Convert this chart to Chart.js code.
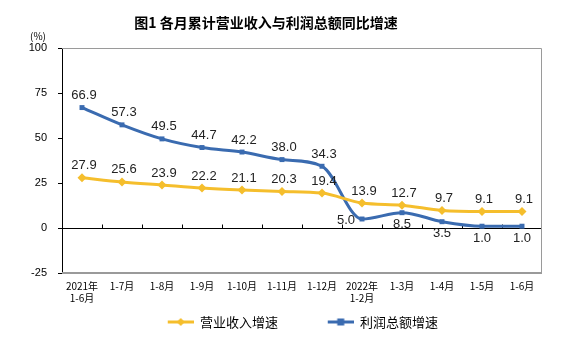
<!DOCTYPE html>
<html>
<head>
<meta charset="utf-8">
<script src="https://cdn.jsdelivr.net/npm/chart.js@4/dist/chart.umd.min.js"></script>
<style>
  html, body { margin: 0; padding: 0; background: #fff; }
  #wrap { width: 579px; height: 347px; }
</style>
</head>
<body>
<div id="wrap"><canvas id="grafico"></canvas></div>
<script>
// ----------------------- dados --------------------------------------------//

var meses = [['2021年', '1-6月'], '1-7月', '1-8月', '1-9月', '1-10月', '1-11月', '1-12月',
  ['2022年', '1-2月'], '1-3月', '1-4月', '1-5月', '1-6月'];
var receita = [27.9, 25.6, 23.9, 22.2, 21.1, 20.3, 19.4, 13.9, 12.7, 9.7, 9.1, 9.1];
var lucro = [66.9, 57.3, 49.5, 44.7, 42.2, 38.0, 34.3, 5.0, 8.5, 3.5, 1.0, 1.0];
var ticksY = [-25, 0, 25, 50, 75, 100];

var titulo = '图1 各月累计营业收入与利润总额同比增速';
var AMARELO = '#F5BE2C';
var AZUL = '#3A6BB0';

// onde fica o rótulo de cada ponto
var posReceita = ['top', 'top', 'top', 'top', 'top', 'top', 'top', 'top', 'top', 'top', 'top', 'top'];
var posLucro = ['top', 'top', 'top', 'top', 'top', 'top', 'top', 'left', 'bottom', 'bottom', 'bottom', 'bottom'];

var CJK = '"Noto Sans CJK SC", "Noto Sans", sans-serif';
var NUM = '"Liberation Sans", Arial, sans-serif';

// simbolo da legenda: linha com marcador, encostado à direita da caixa
function simbolo(cor, forma) {
  var c = document.createElement('canvas');
  c.width = 68; c.height = 10;
  var g = c.getContext('2d');
  g.strokeStyle = cor; g.lineWidth = 3;
  g.beginPath(); g.moveTo(42, 5); g.lineTo(68, 5); g.stroke();
  g.fillStyle = cor;
  g.beginPath();
  if (forma === 'rectRot') {
    g.moveTo(55, 1); g.lineTo(59, 5); g.lineTo(55, 9); g.lineTo(51, 5);
  } else {
    g.rect(51.5, 1.5, 7, 7);
  }
  g.fill();
  return c;
}

// ----------------------- moldura, marcas e textos --------------------------//

var moldura = {
  id: 'moldura',
  beforeDatasetsDraw: function (chart) {
    var a = chart.chartArea, ctx = chart.ctx, x = chart.scales.x, y = chart.scales.y;
    ctx.save();
    ctx.strokeStyle = '#9a9a9a';
    ctx.lineWidth = 1;
    ctx.beginPath();
    ctx.moveTo(a.left, a.top + 0.5); ctx.lineTo(a.right - 0.5, a.top + 0.5);
    ctx.lineTo(a.right - 0.5, a.bottom);
    ctx.stroke();
    ctx.lineWidth = 2;
    ctx.beginPath();
    ctx.moveTo(a.left, a.bottom); ctx.lineTo(a.right, a.bottom);
    ctx.stroke();
    // tracinhos do eixo das categorias sobre a linha do zero
    var y0 = Math.round(y.getPixelForValue(0)) + 0.5;
    var meio = (x.getPixelForValue(1) - x.getPixelForValue(0)) / 2;
    ctx.strokeStyle = '#000';
    ctx.lineWidth = 1;
    ctx.beginPath();
    for (var i = 1; i < meses.length; i++) {
      var px = Math.round(x.getPixelForValue(i) - meio) + 0.5;
      ctx.moveTo(px, y0); ctx.lineTo(px, y0 - 4);
    }
    ctx.stroke();
    ctx.restore();
  },
  afterDatasetsDraw: function (chart) {
    var ctx = chart.ctx;
    ctx.save();
    ctx.fillStyle = '#222';
    ctx.font = '13px ' + NUM;
    [[1, lucro, posLucro], [0, receita, posReceita]].forEach(function (s) {
      var meta = chart.getDatasetMeta(s[0]);
      meta.data.forEach(function (p, i) {
        var txt = s[1][i].toFixed(1);
        var pos = s[2][i];
        if (pos === 'left') {
          ctx.textAlign = 'right'; ctx.textBaseline = 'middle';
          ctx.fillText(txt, p.x - 7, p.y + 1);
        } else if (pos === 'bottom') {
          ctx.textAlign = 'center'; ctx.textBaseline = 'middle';
          ctx.fillText(txt, p.x, p.y + 12);
        } else {
          ctx.textAlign = 'center'; ctx.textBaseline = 'middle';
          ctx.fillText(txt, p.x + 2, p.y - 12);
        }
      });
    });
    // titulo e unidade
    ctx.fillStyle = '#000';
    ctx.textAlign = 'center'; ctx.textBaseline = 'middle';
    ctx.font = 'bold 14px ' + CJK;
    ctx.fillText(titulo, 266, 23);
    ctx.font = '10px ' + CJK;
    ctx.fillText('(%)', 38, 36);
    ctx.restore();
  }
};

// ----------------------- gráfico --------------------------------------------//

var data = {
  labels: meses,
  datasets: [
    {
      label: '营业收入增速',
      data: receita,
      borderColor: AMARELO,
      backgroundColor: AMARELO,
      borderWidth: 3,
      pointStyle: 'rectRot',
      pointRadius: 4.5,
      pointBorderWidth: 0,
      cubicInterpolationMode: 'monotone',
      fill: false
    },
    {
      label: '利润总额增速',
      data: lucro,
      borderColor: AZUL,
      backgroundColor: AZUL,
      borderWidth: 3,
      pointStyle: 'rect',
      pointRadius: 3.5,
      pointBorderWidth: 0,
      cubicInterpolationMode: 'monotone',
      fill: false
    }
  ]
};

var options = {
  responsive: true,
  maintainAspectRatio: false,
  animation: false,
  layout: { padding: { top: 48, left: 22, right: 37, bottom: 8.5 } },
  scales: {
    x: {
      offset: true,
      grid: { display: false, drawTicks: false, tickLength: 0 },
      border: { display: false },
      ticks: { color: '#000', font: { family: CJK, size: 10 }, padding: 7, maxRotation: 0, autoSkip: false },
      afterFit: function (s) { s.height = 34.5; }
    },
    y: {
      min: -25,
      max: 100,
      afterBuildTicks: function (s) { s.ticks = ticksY.map(function (v) { return { value: v }; }); },
      grid: {
        color: function (c) { return c.tick && c.tick.value === 0 ? '#000' : 'rgba(0,0,0,0)'; },
        tickColor: '#000',
        tickLength: 4
      },
      border: { color: '#000', width: 1 },
      ticks: { color: '#000', font: { family: NUM, size: 11 }, padding: 11 },
      afterFit: function (s) { s.width = 40; }
    }
  },
  plugins: {
    title: { display: false },
    tooltip: { enabled: false },
    legend: {
      position: 'bottom',
      labels: {
        usePointStyle: true,
        pointStyleWidth: 67.5,
        boxHeight: 10,
        padding: 8,
        color: '#000',
        font: { family: CJK, size: 13 },
        generateLabels: function (chart) {
          return chart.data.datasets.map(function (ds, i) {
            return {
              text: ds.label,
              pointStyle: simbolo(ds.borderColor, ds.pointStyle),
              fillStyle: ds.borderColor,
              strokeStyle: ds.borderColor,
              lineWidth: 0,
              hidden: false,
              datasetIndex: i
            };
          });
        }
      }
    }
  }
};

var ctx = document.getElementById('grafico').getContext('2d');
var grafico = new Chart(ctx, {
  type: 'line',
  data: data,
  options: options,
  plugins: [moldura]
});
</script>
</body>
</html>
